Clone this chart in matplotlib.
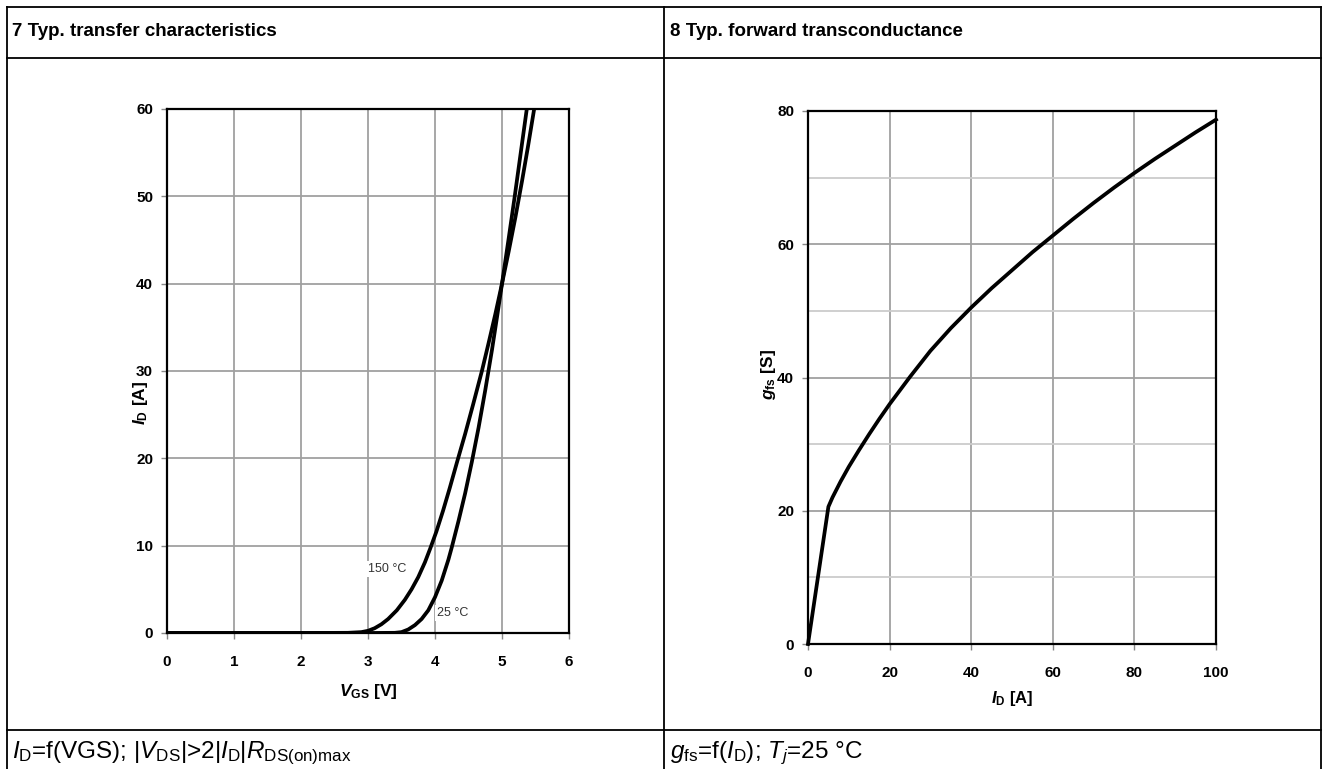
import matplotlib
matplotlib.use("Agg")
import matplotlib.pyplot as plt
from matplotlib.lines import Line2D

plt.rcParams['font.family'] = ['Liberation Sans', 'DejaVu Sans']
plt.rcParams['mathtext.fontset'] = 'custom'
plt.rcParams['mathtext.rm'] = 'Liberation Sans'
plt.rcParams['mathtext.it'] = 'Liberation Sans:italic'
plt.rcParams['mathtext.bf'] = 'Liberation Sans:bold'
plt.rcParams['mathtext.bfit'] = 'Liberation Sans:italic:bold'

# ---- data: chart 7 (transfer characteristics) ----
vgs_150 = [0.0, 1.0, 2.0, 2.7, 2.9, 3.0, 3.1, 3.2, 3.3, 3.43, 3.55, 3.65, 3.75, 3.85, 3.93, 4.02, 4.12, 4.22,
           4.33, 4.45, 4.57, 4.7, 4.8, 4.9, 5.0, 5.1, 5.2, 5.3, 5.39, 5.48]
id_150 = [0.0, 0.0, 0.0, 0.02, 0.1, 0.25, 0.55, 1.0, 1.6, 2.6, 3.8, 5.0, 6.4, 8.1, 9.7, 11.6, 14.0, 16.6,
          19.6, 22.8, 26.2, 30.0, 33.2, 36.5, 40.0, 43.7, 47.6, 51.8, 55.8, 60.0]
vgs_25 = [0.0, 1.0, 2.0, 3.0, 3.4, 3.5, 3.6, 3.7, 3.8, 3.9, 4.0, 4.1, 4.2, 4.25, 4.35, 4.45, 4.55, 4.65,
          4.75, 4.85, 4.93, 5.0, 5.1, 5.19, 5.28, 5.37]
id_25 = [0.0, 0.0, 0.0, 0.0, 0.02, 0.1, 0.4, 0.9, 1.6, 2.6, 4.1, 6.0, 8.4, 9.8, 12.8, 16.0, 19.6, 23.5,
         27.8, 32.4, 36.4, 40.0, 45.2, 50.0, 55.0, 60.0]
vgs_ticks = [0, 1, 2, 3, 4, 5, 6]
id_ticks = [0, 10, 20, 30, 40, 50, 60]

# ---- data: chart 8 (forward transconductance) ----
id_fs = [0, 5, 6, 8, 10, 12.5, 15, 17.5, 20, 25, 30, 35, 40, 45, 50, 55, 60, 65, 70, 75, 80, 85, 90, 95, 100]
gfs = [0.0, 20.6, 22.0, 24.4, 26.6, 29.1, 31.5, 33.8, 36.0, 40.1, 44.0, 47.4, 50.5, 53.4, 56.1, 58.8, 61.3,
       63.8, 66.2, 68.5, 70.7, 72.8, 74.8, 76.8, 78.7]
idfs_ticks = [0, 20, 40, 60, 80, 100]
gfs_ticks = [0, 20, 40, 60, 80]
gfs_minor = [10, 30, 50, 70]

W, H = 1325, 769
fig = plt.figure(figsize=(W / 100, H / 100), dpi=100)

def px_line(x0, y0, x1, y1, lw=1.3):
    fig.add_artist(Line2D([x0 / W, x1 / W], [1 - y0 / H, 1 - y1 / H],
                          transform=fig.transFigure, color='black', lw=lw))

# table frame
px_line(7, 7, 1321, 7)
px_line(7, 58, 1321, 58)
px_line(7, 730, 1321, 730)
px_line(7, 7, 7, 769)
px_line(1321, 7, 1321, 769)
px_line(664, 7, 664, 769)

fig.text(12 / W, 1 - 31 / H, "7 Typ. transfer characteristics", fontsize=13.5,
         fontweight='bold', va='center', ha='left')
fig.text(670 / W, 1 - 31 / H, "8 Typ. forward transconductance", fontsize=13.5,
         fontweight='bold', va='center', ha='left')

fig.text(12 / W, 1 - 753 / H,
         r"$I_\mathrm{D}$=f(VGS); |$V_\mathrm{DS}$|>2|$I_\mathrm{D}$|$R_\mathrm{DS(on)max}$",
         fontsize=17.5, va='center', ha='left')
fig.text(670 / W, 1 - 753 / H,
         r"$g_\mathrm{fs}$=f($I_\mathrm{D}$); $T_j$=25 °C",
         fontsize=17.5, va='center', ha='left')

grid_c = '#a0a0a0'

def style_axes(ax):
    for s in ax.spines.values():
        s.set_linewidth(1.6)
        s.set_color('black')
        s.set_zorder(5)
    ax.tick_params(axis='both', which='major', length=4, width=1, color='#888888',
                   labelsize=11, pad=12)
    ax.tick_params(axis='y', pad=6)
    for lab in ax.get_xticklabels() + ax.get_yticklabels():
        lab.set_fontweight('bold')

# ---- left chart ----
ax1 = fig.add_axes([167 / W, 1 - 633 / H, (569 - 167) / W, (633 - 109) / H])
ax1.set_xlim(0, 6)
ax1.set_ylim(0, 60)
ax1.set_xticks(vgs_ticks)
ax1.set_yticks(id_ticks)
ax1.grid(True, color=grid_c, lw=1.3, zorder=0)
ax1.set_axisbelow(True)
ax1.plot(vgs_150, id_150, color='black', lw=2.7, zorder=3, solid_capstyle='butt')
ax1.plot(vgs_25, id_25, color='black', lw=2.7, zorder=3, solid_capstyle='butt')
ax1.text(3.0, 7.3, "150 °C", fontsize=9, color='#333333', va='center', ha='left',
         bbox=dict(facecolor='white', edgecolor='none', pad=1.5), zorder=2)
ax1.text(4.03, 2.3, "25 °C", fontsize=9, color='#333333', va='center', ha='left',
         bbox=dict(facecolor='white', edgecolor='none', pad=1.5), zorder=2)
style_axes(ax1)
ax1.set_xlabel(r"$\mathbfit{V}_\mathbf{GS}$ [V]", fontsize=12.5, fontweight='bold')
ax1.xaxis.set_label_coords(0.5, -0.093)
ax1.set_ylabel(r"$\mathbfit{I}_\mathbf{D}$ [A]", fontsize=12.5, fontweight='bold')
ax1.yaxis.set_label_coords(-0.042, 0.44)

# ---- right chart ----
ax2 = fig.add_axes([808 / W, 1 - 644 / H, (1216 - 808) / W, (644 - 111) / H])
ax2.set_xlim(0, 100)
ax2.set_ylim(0, 80)
ax2.set_xticks(idfs_ticks)
ax2.set_yticks(gfs_ticks)
ax2.set_yticks(gfs_minor, minor=True)
ax2.tick_params(axis='y', which='minor', length=0)
ax2.grid(True, which='major', color=grid_c, lw=1.3, zorder=0)
ax2.grid(True, which='minor', axis='y', color='#cccccc', lw=1.3, zorder=0)
ax2.set_axisbelow(True)
ax2.plot(id_fs, gfs, color='black', lw=2.7, zorder=3, clip_on=False)
style_axes(ax2)
ax2.set_xlabel(r"$\mathbfit{I}_\mathbf{D}$ [A]", fontsize=12, fontweight='bold')
ax2.xaxis.set_label_coords(0.5, -0.084)
ax2.set_ylabel(r"$\mathbfit{g}_\mathbf{fs}$ [S]", fontsize=12.5, fontweight='bold')
ax2.yaxis.set_label_coords(-0.0735, 0.505)

fig.savefig("out.png", dpi=100, facecolor='white')
